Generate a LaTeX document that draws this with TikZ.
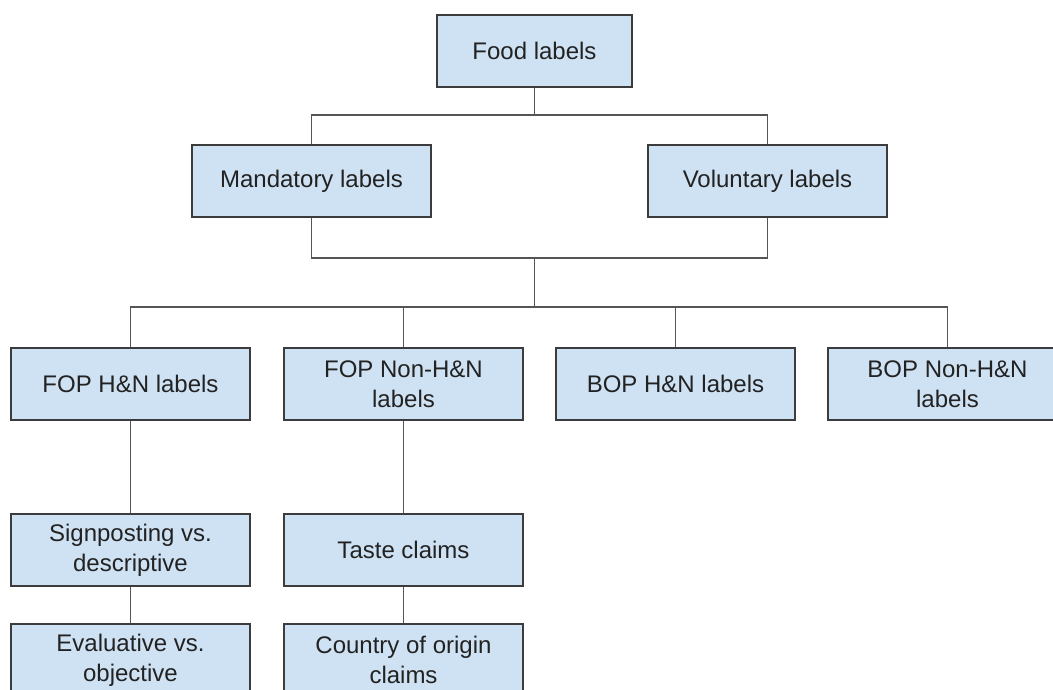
\documentclass[tikz,border=0pt]{standalone}
\usepackage{fontspec}
\setmainfont{Liberation Sans}
\definecolor{boxfill}{HTML}{CFE2F3}
\definecolor{boxline}{HTML}{3C3C3C}
\definecolor{wire}{HTML}{555555}
\definecolor{ink}{HTML}{222222}
\begin{document}
\begin{tikzpicture}[x=1pt,y=1pt,
  catbox/.style={draw=boxline, line width=1.5pt, fill=boxfill, rectangle,
    minimum width=239pt, minimum height=72pt, inner sep=0pt, align=center,
    text=ink, font=\fontsize{24}{30}\selectfont},
  wirepath/.style={draw=wire, line width=1.2pt}]
  \useasboundingbox (0,0) rectangle (1053,-689);
  \clip (0,0) rectangle (1053,-689);
  \fill[white] (0,0) rectangle (1053,-689);

  % top level
  \node[catbox, minimum width=195pt] (food) at (534.5,-51) {Food labels};

  % second level
  \node[catbox] (mand) at (311.5,-181) {Mandatory labels};
  \node[catbox] (vol)  at (767.5,-181) {Voluntary labels};

  % third level
  \node[catbox] (fop)  at (130.5,-384) {FOP H\&N labels};
  \node[catbox] (fopn) at (403.5,-384) {FOP Non-H\&N\\labels};
  \node[catbox] (bop)  at (675.5,-384) {BOP H\&N labels};
  \node[catbox] (bopn) at (947.5,-384) {BOP Non-H\&N\\labels};

  % fourth and fifth levels
  \node[catbox] (sign)  at (130.5,-550) {Signposting vs.\\descriptive};
  \node[catbox] (eval)  at (130.5,-660) {Evaluative vs.\\objective};
  \node[catbox] (taste) at (403.5,-550) {Taste claims};
  \node[catbox] (coo)   at (403.5,-660) {Country of origin\\claims};

  % junction points of the tree
  \coordinate (split) at (534.5,-115);
  \coordinate (merge) at (534.5,-258);
  \coordinate (fan)   at (534.5,-307);

  % connectors
  \draw[wirepath] (food.south) -- (split);
  \draw[wirepath] (split) -| (mand.north);
  \draw[wirepath] (split) -| (vol.north);
  \draw[wirepath] (mand.south) |- (merge);
  \draw[wirepath] (vol.south) |- (merge);
  \draw[wirepath] (merge) -- (fan);
  \draw[wirepath] (fan) -| (fop.north);
  \draw[wirepath] (fan) -| (fopn.north);
  \draw[wirepath] (fan) -| (bop.north);
  \draw[wirepath] (fan) -| (bopn.north);
  \draw[wirepath] (fop.south) -- (sign.north);
  \draw[wirepath] (sign.south) -- (eval.north);
  \draw[wirepath] (fopn.south) -- (taste.north);
  \draw[wirepath] (taste.south) -- (coo.north);
\end{tikzpicture}
\end{document}
